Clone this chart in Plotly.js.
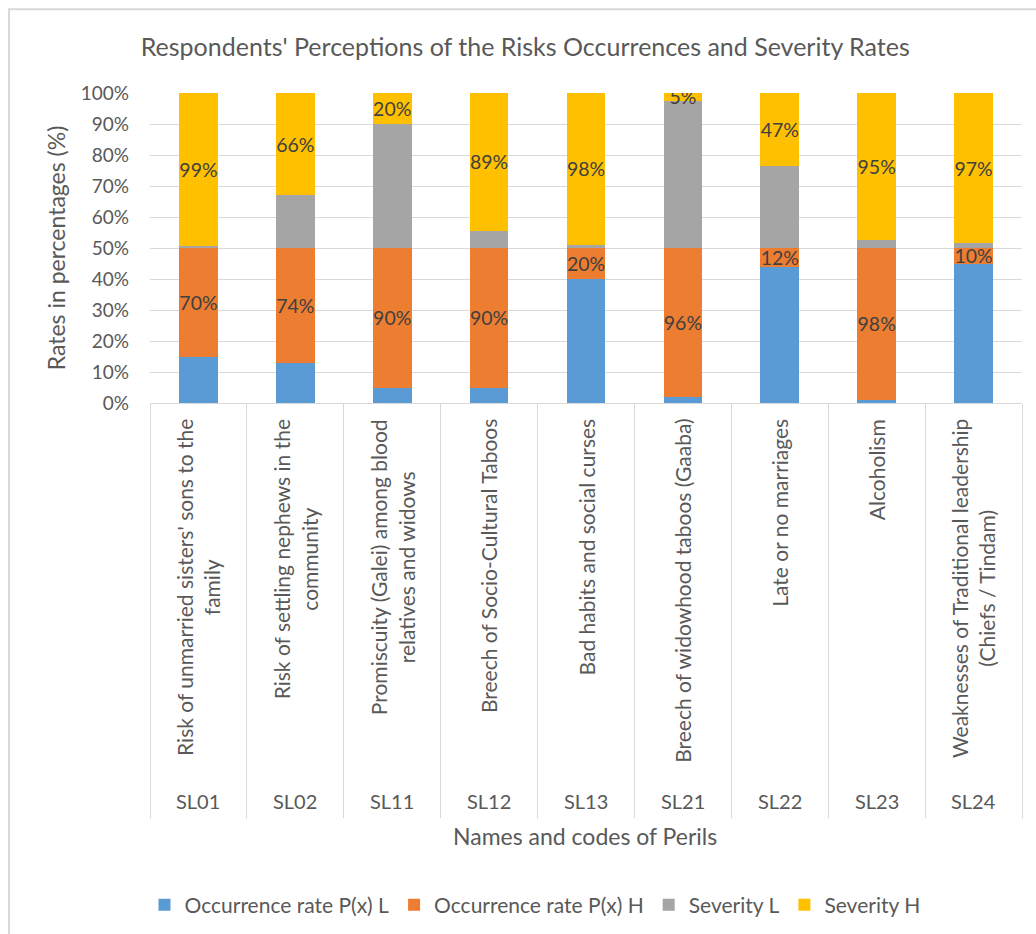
<!DOCTYPE html>
<html>
<head>
<meta charset="utf-8">
<script src="https://cdn.plot.ly/plotly-3.0.1.min.js"></script>
<style>html,body{margin:0;padding:0;background:#fff;}#chart{width:1036px;height:934px;}</style>
</head>
<body>
<div id="chart"></div>
<script>
// Peril codes and names
const codes = ["SL01","SL02","SL11","SL12","SL13","SL21","SL22","SL23","SL24"];
const names = [
  "Risk of unmarried sisters' sons to the<br>family",
  "Risk of settling nephews in the<br>community",
  "Promiscuity (Galei) among blood<br>relatives and widows",
  "Breech of Socio-Cultural Taboos",
  "Bad habits and social curses",
  "Breech of widowhood taboos (Gaaba)",
  "Late or no marriages",
  "Alcoholism",
  "Weaknesses of Traditional leadership<br>(Chiefs / Tindam)"
];
// Series values (%)
const occL = [30, 26, 10, 10, 80, 4, 88, 2, 90];
const occH = [70, 74, 90, 90, 20, 96, 12, 98, 10];
const sevL = [1, 34, 80, 11, 2, 95, 53, 5, 3];
const sevH = [99, 66, 20, 89, 98, 5, 47, 95, 97];
const seriesNames = ["Occurrence rate P(x) L","Occurrence rate P(x) H","Severity L","Severity H"];
const yTicks = [0,10,20,30,40,50,60,70,80,90,100];

const W = 1036, H = 934;
const L = 150, R = 14, T = 93, B = 530;
const plotW = W - L - R, plotH = H - T - B;
const py = (pix) => (H - B - pix) / plotH;   // page y -> paper y
const px = (pix) => (pix - L) / plotW;        // page x -> paper x

const FONT = "Lato, 'Open Sans', sans-serif";
const colors = ["#5B9BD5","#ED7D31","#A5A5A5","#FFC000"];
const vals = [occL, occH, sevL, sevH];
const showLabels = [false, true, false, true];

const traces = vals.map((v, i) => ({
  type: "bar",
  name: seriesNames[i],
  x: codes,
  y: v,
  marker: {color: colors[i]},
  text: showLabels[i] ? v.map(d => d + "%") : undefined,
  textposition: showLabels[i] ? "inside" : "none",
  insidetextanchor: "middle",
  textangle: 0,
  constraintext: "none",
  textfont: {family: FONT, size: 19.5, color: "#404040"},
  hoverinfo: "name+y"
}));

const annotations = [];
codes.forEach((c, i) => {
  annotations.push({
    xref: "x", yref: "paper", x: c, y: py(418), yanchor: "top", xanchor: "center",
    text: names[i], textangle: -90, showarrow: false, align: "center",
    font: {family: FONT, size: 21, color: "#595959"}
  });
  annotations.push({
    xref: "x", yref: "paper", x: c, y: py(803), yanchor: "middle", xanchor: "center",
    text: c, showarrow: false,
    font: {family: FONT, size: 20, color: "#595959"}
  });
});
annotations.push({
  xref: "paper", yref: "paper", x: px(585), y: py(838), xanchor: "center", yanchor: "middle",
  text: "Names and codes of Perils", showarrow: false,
  font: {family: FONT, size: 23, color: "#595959"}
});

const layout = {
  width: W, height: H,
  margin: {l: L, r: R, t: T, b: B},
  paper_bgcolor: "#fff", plot_bgcolor: "#fff",
  barmode: "stack", barnorm: "percent", bargap: 0.6,
  font: {family: FONT, color: "#595959"},
  title: {
    text: "Respondents' Perceptions of the Risks Occurrences and Severity Rates",
    font: {family: FONT, size: 25, color: "#595959"},
    xref: "container", x: 0.507, xanchor: "center",
    yref: "container", y: 1 - 47 / H, yanchor: "middle"
  },
  xaxis: {
    type: "category",
    showticklabels: false,
    ticks: "outside", tickson: "boundaries", ticklen: 414, tickwidth: 1, tickcolor: "#D9D9D9",
    showline: true, linecolor: "#D9D9D9", linewidth: 1,
    showgrid: false, fixedrange: true
  },
  yaxis: {
    range: [0, 100], tickvals: yTicks, ticktext: yTicks.map(t => t + "%"),
    showgrid: true, gridcolor: "#D9D9D9", gridwidth: 1,
    zeroline: false, showline: false,
    ticklabelstandoff: 20,
    tickfont: {family: FONT, size: 19, color: "#595959"},
    title: {text: "Rates in percentages (%)", standoff: 8,
            font: {family: FONT, size: 23, color: "#595959"}},
    fixedrange: true
  },
  showlegend: true,
  legend: {
    orientation: "h", xref: "paper", yref: "paper",
    x: px(535), xanchor: "center", y: py(905), yanchor: "middle",
    font: {family: FONT, size: 21, color: "#595959"},
    traceorder: "normal", itemclick: false
  },
  annotations: annotations,
  shapes: [{
    type: "rect", xref: "paper", yref: "paper",
    x0: px(9), x1: px(1060), y0: py(9), y1: py(960),
    line: {color: "#D9D9D9", width: 2}, fillcolor: "rgba(0,0,0,0)", layer: "below"
  }]
};

Plotly.newPlot("chart", traces, layout, {displayModeBar: false, staticPlot: true});
</script>
</body>
</html>
